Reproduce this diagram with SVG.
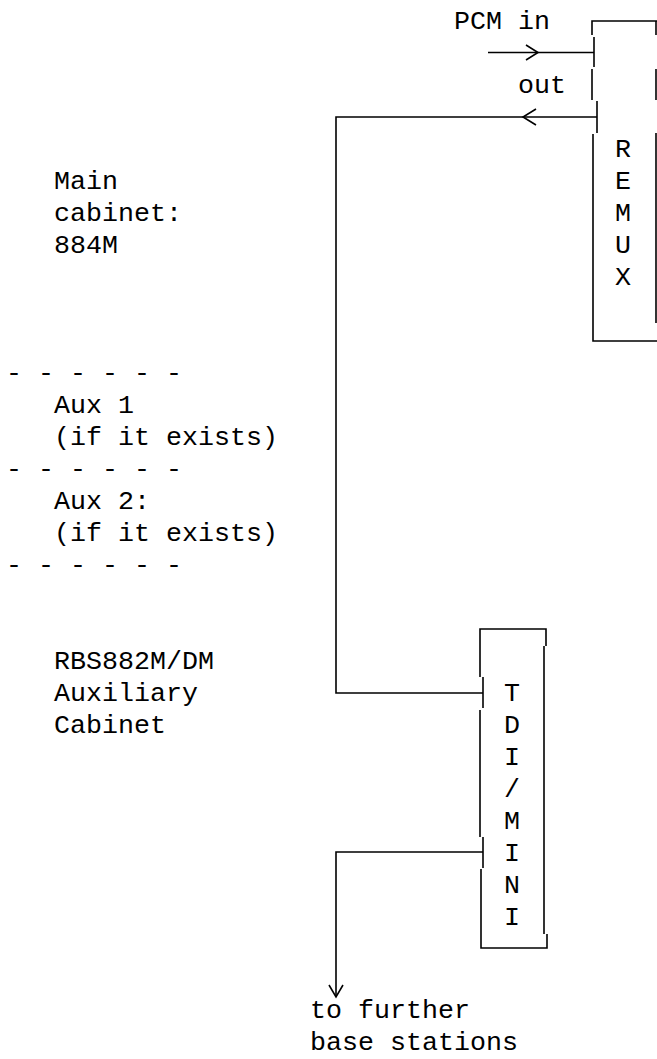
<svg xmlns="http://www.w3.org/2000/svg" width="657" height="1059" viewBox="0 0 657 1059">
<style>
text{font-family:"Liberation Mono","Courier New",monospace;font-size:26.67px;fill:#000}
.c{text-anchor:middle}
line,path,polyline{stroke:#000;stroke-width:1.6;fill:none}
</style>
<rect width="657" height="1059" fill="#fff"/>
<g id="remux">
<polyline points="592,35 592,21 657,21"/>
<line x1="594" y1="37" x2="594" y2="67"/>
<line x1="592" y1="69" x2="592" y2="100"/>
<line x1="597" y1="101" x2="597" y2="133"/>
<polyline points="593,134 593,341 657,341"/>
<line x1="656" y1="21" x2="656" y2="35"/>
<line x1="656" y1="69" x2="656" y2="100"/>
<line x1="656" y1="133" x2="656" y2="323"/>
<text class="c" x="623" y="157">R</text>
<text class="c" x="623" y="189">E</text>
<text class="c" x="623" y="221">M</text>
<text class="c" x="623" y="253">U</text>
<text class="c" x="623" y="285">X</text>
</g>
<g id="tdi-mini">
<polyline points="480,677 480,629 546,629 546,646"/>
<line x1="483" y1="677" x2="483" y2="708"/>
<line x1="480" y1="710" x2="480" y2="837"/>
<line x1="483" y1="837" x2="483" y2="868"/>
<polyline points="481,869 481,948 547,948 547,934"/>
<line x1="544" y1="646" x2="544" y2="934"/>
<text class="c" x="512" y="701">T</text>
<text class="c" x="512" y="733">D</text>
<text class="c" x="512" y="765">I</text>
<text class="c" x="512" y="797">/</text>
<text class="c" x="512" y="829">M</text>
<text class="c" x="512" y="861">I</text>
<text class="c" x="512" y="893">N</text>
<text class="c" x="512" y="925">I</text>
</g>
<g id="main-cabinet">
<text x="54" y="189">Main</text>
<text x="54" y="221">cabinet:</text>
<text x="54" y="253">884M</text>
</g>
<g id="aux">
<text x="6" y="381" xml:space="preserve">- - - - - -</text>
<text x="54" y="413">Aux 1</text>
<text x="54" y="445">(if it exists)</text>
<text x="6" y="477" xml:space="preserve">- - - - - -</text>
<text x="54" y="509">Aux 2:</text>
<text x="54" y="541">(if it exists)</text>
<text x="6" y="573" xml:space="preserve">- - - - - -</text>
</g>
<g id="rbs-aux">
<text x="54" y="669">RBS882M/DM</text>
<text x="54" y="701">Auxiliary</text>
<text x="54" y="733">Cabinet</text>
</g>
<g id="labels">
<text x="454" y="29">PCM in</text>
<text x="518" y="93">out</text>
<text x="310" y="1018">to further</text>
<text x="310" y="1050">base stations</text>
</g>
<g id="connectors">
<line x1="488" y1="52.5" x2="594" y2="52.5"/>
<polyline points="526,45 538,52.5 526,60"/>
<polyline points="597,117 336,117 336,693 483,693"/>
<polyline points="536,109 523,117 536,125"/>
<polyline points="483,852 336,852 336,997"/>
<polyline points="329,985 336,997 343,985"/>
</g>
</svg>
